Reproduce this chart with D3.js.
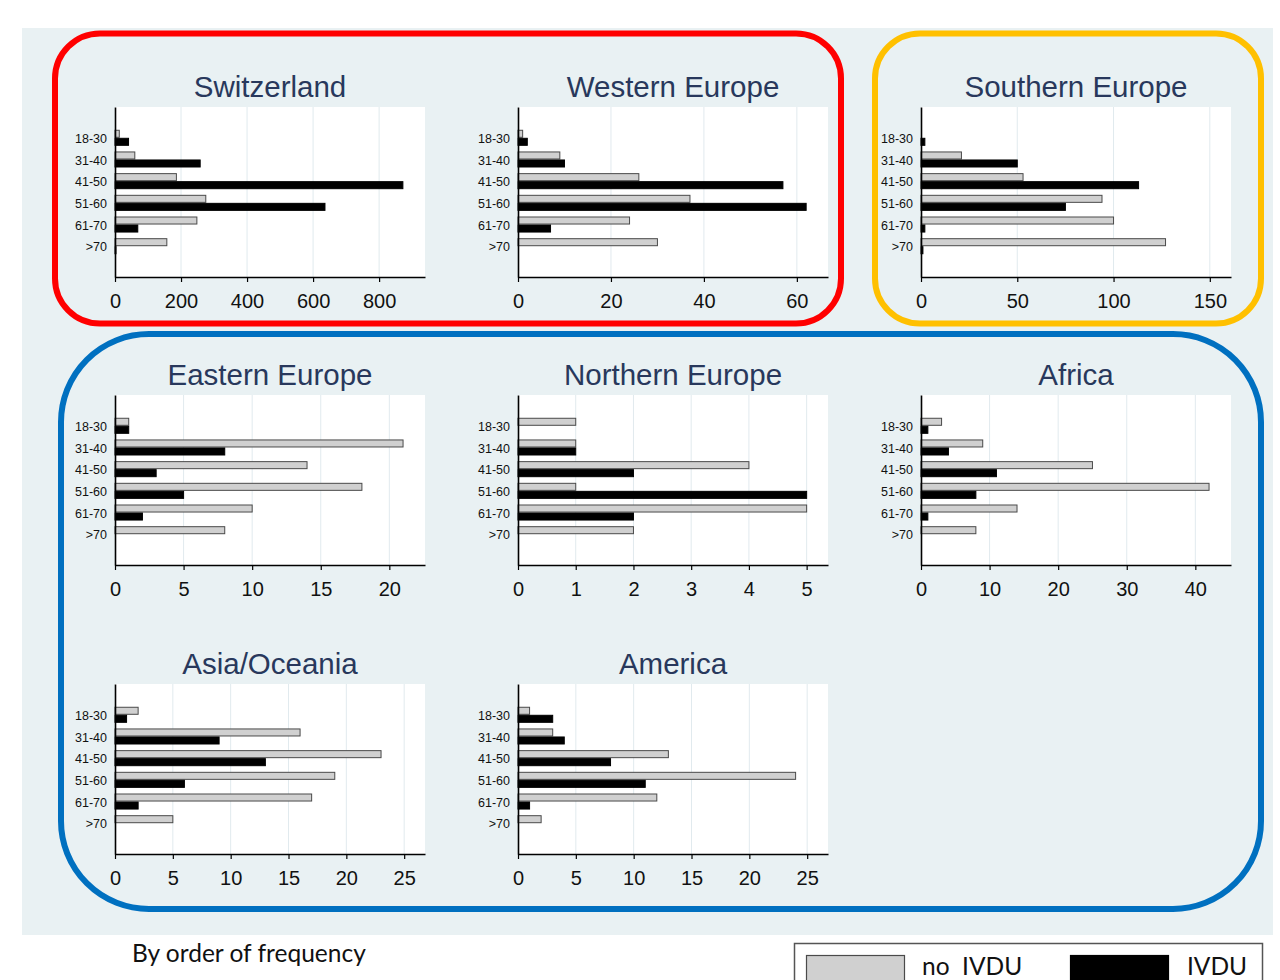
<!DOCTYPE html>
<html>
<head>
<meta charset="utf-8">
<script src="https://cdn.jsdelivr.net/npm/d3@7"></script>
<style>
  html, body { margin: 0; padding: 0; background: #ffffff; }
  svg { display: block; }
</style>
</head>
<body>
<svg id="chart" width="1280" height="980"></svg>
<script>
// Age groups shown on every panel's y axis
const ageGroups = ["18-30", "31-40", "41-50", "51-60", "61-70", ">70"];

// Counts per age group: without / with intravenous drug use
const switzerlandNoIvdu = [13, 60, 186, 275, 248, 157];
const switzerlandIvdu   = [41, 258, 872, 636, 69, 3];
const westernNoIvdu     = [1, 9, 26, 37, 24, 30];
const westernIvdu       = [2, 10, 57, 62, 7, 0];
const southernNoIvdu    = [0, 21, 53, 94, 100, 127];
const southernIvdu      = [2, 50, 113, 75, 2, 1];
const easternNoIvdu     = [1, 21, 14, 18, 10, 8];
const easternIvdu       = [1, 8, 3, 5, 2, 0];
const northernNoIvdu    = [1, 1, 4, 1, 5, 2];
const northernIvdu      = [0, 1, 2, 5, 2, 0];
const africaNoIvdu      = [3, 9, 25, 42, 14, 8];
const africaIvdu        = [1, 4, 11, 8, 1, 0];
const asiaNoIvdu        = [2, 16, 23, 19, 17, 5];
const asiaIvdu          = [1, 9, 13, 6, 2, 0];
const americaNoIvdu     = [1, 3, 13, 24, 12, 2];
const americaIvdu       = [3, 4, 8, 11, 1, 0];

// Tick labels of each panel's x axis
const switzerlandTicks = [0, 200, 400, 600, 800];
const westernTicks     = [0, 20, 40, 60];
const southernTicks    = [0, 50, 100, 150];
const easternTicks     = [0, 5, 10, 15, 20];
const northernTicks    = [0, 1, 2, 3, 4, 5];
const africaTicks      = [0, 10, 20, 30, 40];
const asiaTicks        = [0, 5, 10, 15, 20, 25];
const americaTicks     = [0, 5, 10, 15, 20, 25];

const regionNames = ["Switzerland", "Western Europe", "Southern Europe",
                     "Eastern Europe", "Northern Europe", "Africa",
                     "Asia/Oceania", "America"];
const seriesNames = ["no  IVDU", "IVDU"];

// Panel table: grid cell, axis extent and data
const panels = [
  { name: regionNames[0], col: 0, row: 0, xMax: 939,  ticks: switzerlandTicks, a: switzerlandNoIvdu, b: switzerlandIvdu },
  { name: regionNames[1], col: 1, row: 0, xMax: 66.7, ticks: westernTicks,     a: westernNoIvdu,     b: westernIvdu },
  { name: regionNames[2], col: 2, row: 0, xMax: 161,  ticks: southernTicks,    a: southernNoIvdu,    b: southernIvdu },
  { name: regionNames[3], col: 0, row: 1, xMax: 22.6, ticks: easternTicks,     a: easternNoIvdu,     b: easternIvdu },
  { name: regionNames[4], col: 1, row: 1, xMax: 5.37, ticks: northernTicks,    a: northernNoIvdu,    b: northernIvdu },
  { name: regionNames[5], col: 2, row: 1, xMax: 45.2, ticks: africaTicks,      a: africaNoIvdu,      b: africaIvdu },
  { name: regionNames[6], col: 0, row: 2, xMax: 26.8, ticks: asiaTicks,        a: asiaNoIvdu,        b: asiaIvdu },
  { name: regionNames[7], col: 1, row: 2, xMax: 26.8, ticks: americaTicks,     a: americaNoIvdu,     b: americaIvdu }
];

const svg = d3.select("#chart");
const FONT = "'Liberation Sans', Arial, sans-serif";
const NOTE_FONT = "Lato, 'Open Sans', sans-serif";
const GRAY = "#d0d0d0";

// Backdrop
svg.append("rect").attr("x", 22).attr("y", 28).attr("width", 1251).attr("height", 907)
  .attr("fill", "#e9f1f3");

// Group frames
const frames = [
  { x: 55,  y: 33.5,  w: 786,  h: 290, r: 45, c: "#ff0000" },
  { x: 875, y: 33.5,  w: 386,  h: 290, r: 45, c: "#ffc000" },
  { x: 61,  y: 334,   w: 1200, h: 575, r: 88, c: "#0070c0" }
];
svg.selectAll("rect.frame").data(frames).join("rect")
  .attr("class", "frame")
  .attr("x", d => d.x).attr("y", d => d.y)
  .attr("width", d => d.w).attr("height", d => d.h)
  .attr("rx", d => d.r).attr("ry", d => d.r)
  .attr("fill", "none").attr("stroke", d => d.c).attr("stroke-width", 6);

const colX = [115, 518, 921];
const rowY = [107, 395, 684];
const plotW = 310, plotH = 170;

panels.forEach(p => {
  const x0 = colX[p.col], y0 = rowY[p.row];
  const g = svg.append("g");

  // plot area
  g.append("rect").attr("x", x0).attr("y", y0).attr("width", plotW).attr("height", plotH)
    .attr("fill", "#ffffff");

  const x = d3.scaleLinear().domain([0, p.xMax]).range([x0, x0 + plotW]);
  const y = d3.scaleBand().domain(ageGroups).range([y0, y0 + plotH])
    .paddingInner(0.26).paddingOuter(1.05);
  const sub = d3.scaleBand().domain(["a", "b"]).range([0, y.bandwidth()]);

  // vertical grid
  g.selectAll("line.grid").data(p.ticks.filter(t => t > 0)).join("line")
    .attr("x1", d => x(d)).attr("x2", d => x(d))
    .attr("y1", y0).attr("y2", y0 + plotH)
    .attr("stroke", "#e1eaee").attr("stroke-width", 1);

  // bars
  const rows = ageGroups.map((k, i) => ({ k, a: p.a[i], b: p.b[i] }));
  g.selectAll("rect.no").data(rows.filter(d => d.a > 0)).join("rect")
    .attr("x", x(0)).attr("y", d => y(d.k) + sub("a") + 0.5)
    .attr("width", d => x(d.a) - x(0)).attr("height", sub.bandwidth() - 1)
    .attr("fill", GRAY).attr("stroke", "#4a4a4a").attr("stroke-width", 1);
  g.selectAll("rect.yes").data(rows.filter(d => d.b > 0)).join("rect")
    .attr("x", x(0)).attr("y", d => y(d.k) + sub("b") + 0.5)
    .attr("width", d => x(d.b) - x(0)).attr("height", sub.bandwidth() - 1)
    .attr("fill", "#000000").attr("stroke", "#000000").attr("stroke-width", 1);

  // x axis
  const xa = g.append("g").attr("transform", `translate(0,${y0 + plotH})`)
    .call(d3.axisBottom(x).tickValues(p.ticks).tickSize(5).tickSizeOuter(0).tickPadding(12)
      .tickFormat(d3.format("d")));
  xa.select(".domain").attr("stroke", "#000").attr("stroke-width", 1.6);
  xa.selectAll(".tick line").attr("stroke", "#000").attr("stroke-width", 1.2);
  xa.selectAll(".tick text").attr("font-family", FONT).attr("font-size", 20).attr("fill", "#111");

  // y axis
  const ya = g.append("g").attr("transform", `translate(${x0},0)`)
    .call(d3.axisLeft(y).tickSize(0).tickSizeOuter(0).tickPadding(8));
  ya.select(".domain").attr("stroke", "#000").attr("stroke-width", 1.6);
  ya.selectAll(".tick text").attr("font-family", FONT).attr("font-size", 12.5)
    .attr("fill", "#111").attr("dy", "0.42em");

  // title
  g.append("text").attr("x", x0 + plotW / 2).attr("y", y0 - 10)
    .attr("text-anchor", "middle").attr("font-family", FONT).attr("font-size", 29.5)
    .attr("fill", "#28385c").text(p.name);
});

// Footer note
svg.append("text").attr("x", 132).attr("y", 962)
  .attr("font-family", NOTE_FONT).attr("font-size", 24.5)
  .attr("fill", "#111").text("By order of frequency");

// Legend
const lg = svg.append("g");
lg.append("rect").attr("x", 794.5).attr("y", 943.5).attr("width", 468).attr("height", 80)
  .attr("fill", "#ffffff").attr("stroke", "#555").attr("stroke-width", 1.5);
const legendItems = [
  { label: seriesNames[0], fill: GRAY, stroke: "#4a4a4a", sx: 806, tx: 922 },
  { label: seriesNames[1], fill: "#000", stroke: "#000", sx: 1070, tx: 1187 }
];
legendItems.forEach(it => {
  lg.append("rect").attr("x", it.sx + 0.5).attr("y", 955.5).attr("width", 98).attr("height", 40)
    .attr("fill", it.fill).attr("stroke", it.stroke).attr("stroke-width", 1.2);
  lg.append("text").attr("x", it.tx).attr("y", 975)
    .attr("font-family", NOTE_FONT).attr("font-size", 24.5)
    .attr("fill", "#111").style("white-space", "pre").text(it.label);
});
</script>
</body>
</html>
